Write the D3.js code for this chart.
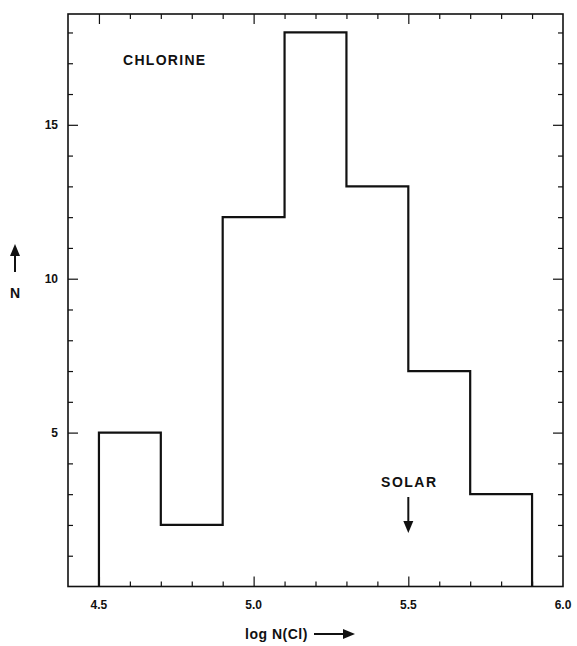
<!DOCTYPE html>
<html lang="en">
<head>
<meta charset="UTF-8">
<title>Chlorine histogram</title>
<script src="https://cdn.jsdelivr.net/npm/d3@7"></script>
<style>
  body { margin: 0; background: #fff; }
  text { font-family: "Liberation Sans", Arial, sans-serif; fill: #111; font-weight: bold; }
</style>
</head>
<body>
<script>
// histogram bins (log N(Cl)) and counts
const binEdges = [4.5, 4.7, 4.9, 5.1, 5.3, 5.5, 5.7, 5.9];
const counts = [5, 2, 12, 18, 13, 7, 3];
const xTickLabels = [4.5, 5.0, 5.5, 6.0];
const yTickLabels = [5, 10, 15];
const solarValue = 5.5;

const width = 577, height = 646;
const svg = d3.select('body').append('svg')
  .attr('width', width)
  .attr('height', height);

// scales
const x = d3.scaleLinear().domain([4.4, 6.0]).range([68, 563]);
const y = d3.scaleLinear().domain([0, 18.6]).range([586.5, 14]);

const ink = '#111';

// frame
svg.append('rect')
  .attr('x', x(4.4)).attr('y', y(18.6))
  .attr('width', x(6.0) - x(4.4)).attr('height', y(0) - y(18.6))
  .attr('fill', 'none').attr('stroke', ink).attr('stroke-width', 1.6);

// minor / major ticks, all pointing inward
const xMinorVals = d3.range(45, 60).filter(d => d % 5 !== 0).map(d => d / 10);
const xMajorVals = [4.5, 5.0, 5.5];
const yMinorVals = d3.range(1, 19).filter(d => d % 5 !== 0);
const yMajorVals = yTickLabels;

function tickGroup(axis) {
  const g = svg.append('g').call(axis);
  g.select('.domain').remove();
  g.selectAll('line').attr('stroke', ink).attr('stroke-width', 1.2);
  return g;
}

// bottom
tickGroup(d3.axisBottom(x).tickValues(xMinorVals).tickSize(-5).tickFormat(''))
  .attr('transform', `translate(0,${y(0)})`);
tickGroup(d3.axisBottom(x).tickValues(xMajorVals).tickSize(-10).tickFormat(''))
  .attr('transform', `translate(0,${y(0)})`);
// top
tickGroup(d3.axisTop(x).tickValues(xMinorVals).tickSize(-5).tickFormat(''))
  .attr('transform', `translate(0,${y(18.6)})`);
tickGroup(d3.axisTop(x).tickValues(xMajorVals).tickSize(-10).tickFormat(''))
  .attr('transform', `translate(0,${y(18.6)})`);
// left
tickGroup(d3.axisLeft(y).tickValues(yMinorVals).tickSize(-5).tickFormat(''))
  .attr('transform', `translate(${x(4.4)},0)`);
tickGroup(d3.axisLeft(y).tickValues(yMajorVals).tickSize(-10).tickFormat(''))
  .attr('transform', `translate(${x(4.4)},0)`);
// right
tickGroup(d3.axisRight(y).tickValues(yMinorVals).tickSize(-5).tickFormat(''))
  .attr('transform', `translate(${x(6.0)},0)`);
tickGroup(d3.axisRight(y).tickValues(yMajorVals).tickSize(-10).tickFormat(''))
  .attr('transform', `translate(${x(6.0)},0)`);

// tick labels
svg.append('g').selectAll('text')
  .data(xTickLabels).join('text')
  .attr('x', d => x(d)).attr('y', y(0) + 22)
  .attr('text-anchor', 'middle')
  .attr('font-size', 12)
  .text(d => d.toFixed(1));

svg.append('g').selectAll('text')
  .data(yTickLabels).join('text')
  .attr('x', x(4.4) - 10).attr('y', d => y(d) + 4)
  .attr('text-anchor', 'end')
  .attr('font-size', 12)
  .text(d => d);

// histogram outline
const pts = [[binEdges[0], 0]];
counts.forEach((c, i) => {
  pts.push([binEdges[i], c]);
  pts.push([binEdges[i + 1], c]);
});
pts.push([binEdges[binEdges.length - 1], 0]);

const line = d3.line().x(d => x(d[0])).y(d => y(d[1]));
svg.append('path')
  .datum(pts)
  .attr('d', line)
  .attr('fill', 'none')
  .attr('stroke', ink)
  .attr('stroke-width', 2.2)
  .attr('stroke-linejoin', 'miter');

// arrow head helper
function arrowHead(px, py, dir) {
  let p;
  if (dir === 'down') p = [[px - 5, py - 12], [px + 5, py - 12], [px, py]];
  else if (dir === 'up') p = [[px - 5, py + 12], [px + 5, py + 12], [px, py]];
  else p = [[px - 12, py - 5], [px - 12, py + 5], [px, py]];
  svg.append('path').attr('d', 'M' + p.join('L') + 'Z').attr('fill', ink);
}

// title inside plot
svg.append('text')
  .attr('x', 123).attr('y', 65)
  .attr('font-size', 14)
  .attr('letter-spacing', 1.3)
  .text('CHLORINE');

// SOLAR marker
svg.append('text')
  .attr('x', x(solarValue) + 1).attr('y', 487)
  .attr('text-anchor', 'middle')
  .attr('font-size', 14)
  .attr('letter-spacing', 1.5)
  .text('SOLAR');
svg.append('line')
  .attr('x1', x(solarValue)).attr('x2', x(solarValue))
  .attr('y1', 497).attr('y2', 522)
  .attr('stroke', ink).attr('stroke-width', 2);
arrowHead(x(solarValue), 533, 'down');

// x axis title
svg.append('text')
  .attr('x', 245).attr('y', 639)
  .attr('font-size', 14)
  .attr('letter-spacing', 0.5)
  .text('log N(Cl)');
svg.append('line')
  .attr('x1', 314).attr('x2', 344)
  .attr('y1', 634).attr('y2', 634)
  .attr('stroke', ink).attr('stroke-width', 2);
arrowHead(355, 634, 'right');

// y axis title
svg.append('line')
  .attr('x1', 15).attr('x2', 15)
  .attr('y1', 272).attr('y2', 254)
  .attr('stroke', ink).attr('stroke-width', 2);
arrowHead(15, 244, 'up');
svg.append('text')
  .attr('x', 15).attr('y', 298)
  .attr('text-anchor', 'middle')
  .attr('font-size', 14)
  .text('N');
</script>
</body>
</html>
